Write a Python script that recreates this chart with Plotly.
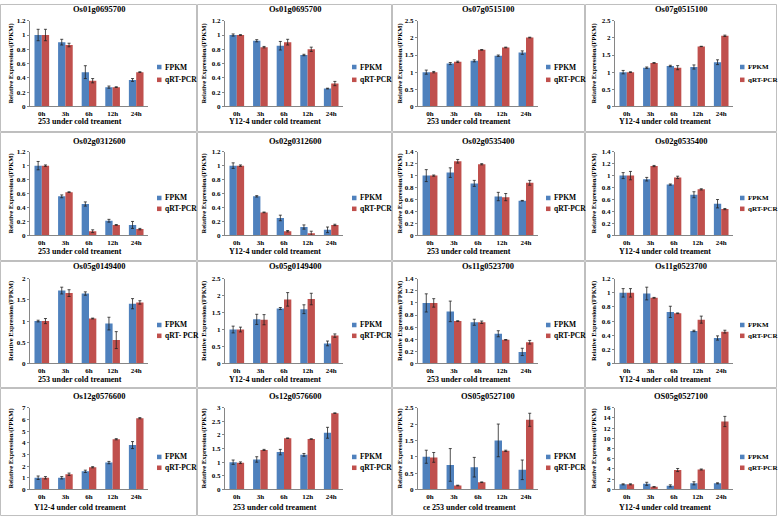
import plotly.graph_objects as go

W, H = 778, 521
time_points = ["0h", "3h", "6h", "12h", "24h"]

titles = ["Os01g0695700", "Os01g0695700", "Os07g0515100", "Os07g0515100",
          "Os02g0312600", "Os02g0312600", "Os02g0535400", "Os02g0535400",
          "Os05g0149400", "Os05g0149400", "Os11g0523700", "Os11g0523700",
          "Os12g0576600", "Os12g0576600", "OS05g0527100", "OS05g0527100"]
xlabels = ["253 under cold treament", "Y12-4 under cold treament", "253 under cold treament", "Y12-4 under cold treament",
           "253 under cold treament", "Y12-4 under cold treament", "253 under cold treament", "Y12-4 under cold treament",
           "253 under cold treament", "Y12-4 under cold treament", "253 under cold treament", "Y12-4 under cold treament",
           "Y12-4 under cold treament", "253 under cold treament", "ce 253 under cold treament", "Y12-4 under cold treament"]
legend_fpkm = "FPKM"
legend_qrt = ["qRT-PCR"] * 16
legend_qrt[8] = "qRT- PCR"
y_max = [1.2, 1.2, 2.5, 2.5, 1.2, 1.2, 1.4, 1.4, 2, 2.5, 1.4, 1.2, 7, 3, 2.5, 16]
y_step = [0.2, 0.2, 0.5, 0.5, 0.2, 0.2, 0.2, 0.2, 0.5, 0.5, 0.2, 0.2, 1, 0.5, 0.5, 2]

fpkm_1 = [1.0, 0.90, 0.48, 0.27, 0.37]; fpkm_err_1 = [0.08, 0.04, 0.09, 0.015, 0.02]
qrt_1 = [1.0, 0.86, 0.36, 0.27, 0.48]; qrt_err_1 = [0.08, 0.025, 0.03, 0.005, 0.005]
fpkm_2 = [1.0, 0.92, 0.85, 0.72, 0.25]; fpkm_err_2 = [0.015, 0.015, 0.06, 0.01, 0.005]
qrt_2 = [1.0, 0.83, 0.90, 0.80, 0.32]; qrt_err_2 = [0.005, 0.01, 0.04, 0.03, 0.03]
fpkm_3 = [1.0, 1.25, 1.33, 1.48, 1.57]; fpkm_err_3 = [0.06, 0.03, 0.03, 0.02, 0.05]
qrt_3 = [1.0, 1.30, 1.65, 1.72, 2.01]; qrt_err_3 = [0.02, 0.02, 0.01, 0.01, 0.01]
fpkm_4 = [1.0, 1.13, 1.18, 1.15, 1.29]; fpkm_err_4 = [0.05, 0.02, 0.02, 0.06, 0.07]
qrt_4 = [1.0, 1.27, 1.13, 1.75, 2.06]; qrt_err_4 = [0.01, 0.01, 0.06, 0.005, 0.02]
fpkm_5 = [1.0, 0.56, 0.45, 0.21, 0.15]; fpkm_err_5 = [0.06, 0.02, 0.03, 0.02, 0.05]
qrt_5 = [1.0, 0.62, 0.06, 0.15, 0.09]; qrt_err_5 = [0.01, 0.005, 0.02, 0.005, 0.01]
fpkm_6 = [1.0, 0.56, 0.25, 0.12, 0.08]; fpkm_err_6 = [0.04, 0.01, 0.04, 0.03, 0.04]
qrt_6 = [1.0, 0.33, 0.06, 0.03, 0.15]; qrt_err_6 = [0.01, 0.005, 0.01, 0.03, 0.01]
fpkm_7 = [1.0, 1.05, 0.87, 0.65, 0.58]; fpkm_err_7 = [0.10, 0.08, 0.05, 0.07, 0.005]
qrt_7 = [1.0, 1.24, 1.19, 0.64, 0.88]; qrt_err_7 = [0.01, 0.03, 0.01, 0.06, 0.04]
fpkm_8 = [1.0, 0.94, 0.85, 0.68, 0.53]; fpkm_err_8 = [0.05, 0.03, 0.01, 0.05, 0.07]
qrt_8 = [1.0, 1.16, 0.97, 0.77, 0.44]; qrt_err_8 = [0.07, 0.01, 0.02, 0.01, 0.01]
fpkm_9 = [1.0, 1.72, 1.65, 0.94, 1.41]; fpkm_err_9 = [0.02, 0.08, 0.04, 0.15, 0.12]
qrt_9 = [1.0, 1.66, 1.06, 0.55, 1.44]; qrt_err_9 = [0.06, 0.08, 0.01, 0.20, 0.04]
fpkm_10 = [1.0, 1.30, 1.62, 1.60, 0.59]; fpkm_err_10 = [0.10, 0.15, 0.03, 0.13, 0.07]
qrt_10 = [1.0, 1.29, 1.89, 1.90, 0.82]; qrt_err_10 = [0.07, 0.15, 0.20, 0.17, 0.05]
fpkm_11 = [1.0, 0.86, 0.68, 0.49, 0.19]; fpkm_err_11 = [0.15, 0.17, 0.05, 0.05, 0.06]
qrt_11 = [1.0, 0.70, 0.68, 0.39, 0.35]; qrt_err_11 = [0.07, 0.005, 0.02, 0.005, 0.03]
fpkm_12 = [1.0, 0.99, 0.73, 0.46, 0.36]; fpkm_err_12 = [0.06, 0.09, 0.08, 0.01, 0.03]
qrt_12 = [1.0, 0.93, 0.71, 0.62, 0.45]; qrt_err_12 = [0.06, 0.005, 0.005, 0.05, 0.02]
fpkm_13 = [1.0, 1.0, 1.55, 2.3, 3.8]; fpkm_err_13 = [0.15, 0.1, 0.1, 0.1, 0.3]
qrt_13 = [1.0, 1.3, 1.9, 4.3, 6.1]; qrt_err_13 = [0.1, 0.1, 0.05, 0.05, 0.05]
fpkm_14 = [1.0, 1.1, 1.37, 1.27, 2.08]; fpkm_err_14 = [0.08, 0.1, 0.1, 0.05, 0.2]
qrt_14 = [0.98, 1.45, 1.88, 1.85, 2.8]; qrt_err_14 = [0.03, 0.02, 0.01, 0.01, 0.01]
fpkm_15 = [1.0, 0.75, 0.68, 1.5, 0.6]; fpkm_err_15 = [0.2, 0.5, 0.3, 0.5, 0.3]
qrt_15 = [0.98, 0.12, 0.22, 1.18, 2.13]; qrt_err_15 = [0.15, 0.01, 0.01, 0.02, 0.2]
fpkm_16 = [1.0, 1.1, 0.7, 1.2, 1.2]; fpkm_err_16 = [0.1, 0.3, 0.2, 0.3, 0.1]
qrt_16 = [1.0, 0.5, 3.8, 3.9, 13.3]; qrt_err_16 = [0.1, 0.05, 0.3, 0.1, 1.0]

fpkm = [fpkm_1, fpkm_2, fpkm_3, fpkm_4, fpkm_5, fpkm_6, fpkm_7, fpkm_8,
        fpkm_9, fpkm_10, fpkm_11, fpkm_12, fpkm_13, fpkm_14, fpkm_15, fpkm_16]
fpkm_err = [fpkm_err_1, fpkm_err_2, fpkm_err_3, fpkm_err_4, fpkm_err_5, fpkm_err_6, fpkm_err_7, fpkm_err_8,
            fpkm_err_9, fpkm_err_10, fpkm_err_11, fpkm_err_12, fpkm_err_13, fpkm_err_14, fpkm_err_15, fpkm_err_16]
qrt = [qrt_1, qrt_2, qrt_3, qrt_4, qrt_5, qrt_6, qrt_7, qrt_8,
       qrt_9, qrt_10, qrt_11, qrt_12, qrt_13, qrt_14, qrt_15, qrt_16]
qrt_err = [qrt_err_1, qrt_err_2, qrt_err_3, qrt_err_4, qrt_err_5, qrt_err_6, qrt_err_7, qrt_err_8,
           qrt_err_9, qrt_err_10, qrt_err_11, qrt_err_12, qrt_err_13, qrt_err_14, qrt_err_15, qrt_err_16]

BLUE = "#4F81BD"
RED = "#C0504D"
FONT = "Liberation Serif"
AXIS_COLOR = "#868686"

# layout geometry (pixels)
col_edge = [0, 197, 392, 585, 777]
row_edge = [0, 130, 261, 390, 520]
plot_left = [30, 225, 418, 615]
plot_right = [148, 343, 538, 733]
ytitle_x = [11, 204, 400, 594]
legend_x = [157, 352, 546, 740]
legend_size = [7.5, 7.5, 7.5, 7]
plot_top = [17, 150, 279, 410]
plot_bot = [104, 235, 365, 493]
title_y = [5, 139, 266, 398]
xtitle_y = [119, 251, 381, 511]
legend_y = [[64, 77], [197, 208], [326, 337], [460, 471]]


def px(x):
    return x / W


def py(y):
    return 1 - y / H


fig = go.Figure()
layout = {}
shapes = []
annotations = []

for i in range(16):
    r, c = divmod(i, 4)
    n = i + 1
    xa = "x" if n == 1 else f"x{n}"
    ya = "y" if n == 1 else f"y{n}"
    x0, x1 = plot_left[c], plot_right[c]
    y_top, y_bot = plot_top[r], plot_bot[r]

    fig.add_trace(go.Bar(
        x=time_points, y=fpkm[i], name=legend_fpkm, marker_color=BLUE, marker_line_width=0,
        error_y=dict(type="data", array=fpkm_err[i], color="#222222", thickness=0.8, width=1.5),
        xaxis=xa, yaxis=ya, showlegend=False))
    fig.add_trace(go.Bar(
        x=time_points, y=qrt[i], name=legend_qrt[i], marker_color=RED, marker_line_width=0,
        error_y=dict(type="data", array=qrt_err[i], color="#222222", thickness=0.8, width=1.5),
        xaxis=xa, yaxis=ya, showlegend=False))

    layout["xaxis" if n == 1 else f"xaxis{n}"] = dict(
        domain=[px(x0), px(x1)], anchor=ya, showline=True, linecolor=AXIS_COLOR, linewidth=1,
        ticks="", tickfont=dict(family=FONT, size=7, color="black", weight="bold"),
        showgrid=False, fixedrange=True)
    layout["yaxis" if n == 1 else f"yaxis{n}"] = dict(
        domain=[py(y_bot), py(y_top)], anchor=xa, range=[0, y_max[i]], dtick=y_step[i], tick0=0,
        showline=True, linecolor=AXIS_COLOR, linewidth=1, ticks="outside", ticklen=2,
        tickcolor=AXIS_COLOR, tickfont=dict(family=FONT, size=7, color="black", weight="bold"),
        showgrid=False, zeroline=False, fixedrange=True)

    # panel border
    shapes.append(dict(type="rect", xref="paper", yref="paper",
                       x0=px(col_edge[c] + 0.5), x1=px(col_edge[c + 1] - 0.5),
                       y0=py(row_edge[r + 1] - 0.5), y1=py(row_edge[r] + 0.5),
                       line=dict(color="#BFBFBF", width=1), layer="below"))
    # title, centred on the panel
    annotations.append(dict(text=titles[i], xref="paper", yref="paper",
                            x=px((col_edge[c] + col_edge[c + 1]) / 2), y=py(title_y[r]),
                            showarrow=False, xanchor="center", yanchor="middle",
                            font=dict(family=FONT, size=8.5, color="black", weight="bold")))
    # x-axis title
    annotations.append(dict(text=xlabels[i], xref="paper", yref="paper",
                            x=px((x0 + x1) / 2 - 9), y=py(xtitle_y[r]),
                            showarrow=False, xanchor="center", yanchor="middle",
                            font=dict(family=FONT, size=8, color="black", weight="bold")))
    # y-axis title
    annotations.append(dict(text="Relative Expression/(FPKM)", xref="paper", yref="paper",
                            x=px(ytitle_x[c]), y=py((y_top + y_bot) / 2), textangle=-90,
                            showarrow=False, xanchor="center", yanchor="middle",
                            font=dict(family=FONT, size=6.5, color="black", weight="bold")))
    # legend
    for k, (lab, col) in enumerate([(legend_fpkm, BLUE), (legend_qrt[i], RED)]):
        ly = legend_y[r][k]
        lx = legend_x[c]
        shapes.append(dict(type="rect", xref="paper", yref="paper",
                           x0=px(lx), x1=px(lx + 4.5), y0=py(ly + 2.3), y1=py(ly - 2.3),
                           fillcolor=col, line=dict(width=0)))
        annotations.append(dict(text=lab, xref="paper", yref="paper",
                                x=px(lx + 5.5), y=py(ly), showarrow=False,
                                xanchor="left", yanchor="middle",
                                font=dict(family=FONT, size=legend_size[c], color="black", weight="bold")))

fig.update_layout(
    width=W, height=H, autosize=False,
    margin=dict(l=0, r=0, t=0, b=0),
    paper_bgcolor="white", plot_bgcolor="white",
    barmode="group", bargap=0.38, bargroupgap=0,
    shapes=shapes, annotations=annotations, showlegend=False,
    **layout)

fig.write_html("out.html", config={"displayModeBar": False},
               post_script="document.body.style.margin='0';document.body.style.padding='0';")
